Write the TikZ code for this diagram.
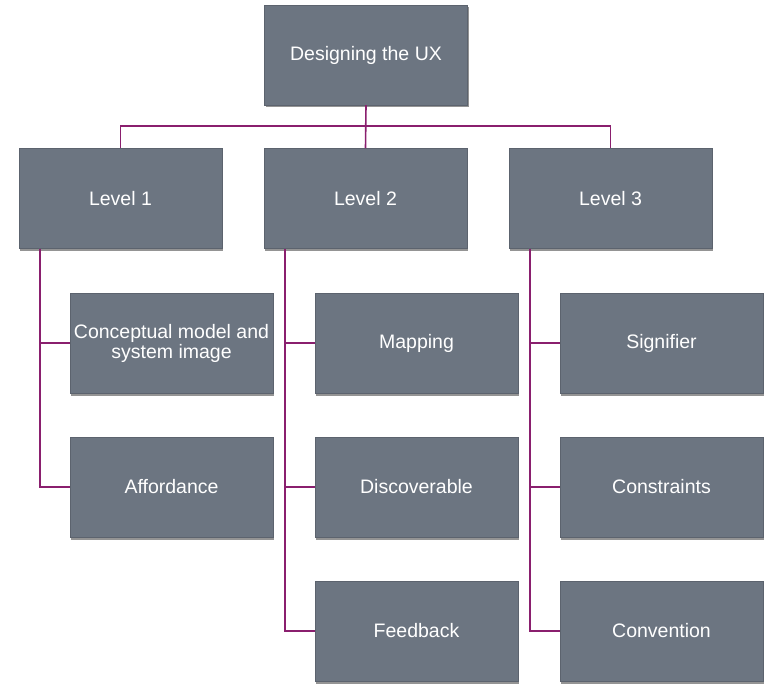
\documentclass[tikz,border=0pt]{standalone}
\usepackage{fontspec}
\setmainfont{Liberation Sans}
\usepackage{xcolor}
\usetikzlibrary{shadows}
\definecolor{boxgray}{HTML}{6C7581}
\definecolor{linkpurple}{HTML}{8A1F6E}

\begin{document}
\begin{tikzpicture}[x=1pt,y=-1pt,
        box/.style={draw=boxgray!85!black, line width=0.5pt, fill=boxgray, text=white,
            minimum width=203pt, minimum height=100pt, inner sep=0pt, align=center,
            font=\fontsize{19.5}{20}\selectfont,
            drop shadow={shadow xshift=1pt, shadow yshift=-2.5pt, opacity=0.6, fill=black!70}},
        link/.style={draw=linkpurple, line width=1.6pt}]
            \useasboundingbox (0,0) rectangle (765,684);
            % root and levels
            \node[box] (ux) at (366,55) {Designing the UX};
            \node[box] (lv1) at (120.5,198.5) {Level 1};
            \node[box] (lv2) at (365.5,198.5) {Level 2};
            \node[box] (lv3) at (610.5,198.5) {Level 3};
            % level 1
            \node[box] (concept) at (171.5,343) {Conceptual model and\\system image};
            \node[box] (afford) at (171.5,487) {Affordance};
            % level 2
            \node[box] (mapping) at (416.5,343) {Mapping};
            \node[box] (discover) at (416.5,487) {Discoverable};
            \node[box] (feedback) at (416.5,631) {Feedback};
            % level 3
            \node[box] (signifier) at (661.5,343) {Signifier};
            \node[box] (constraints) at (661.5,487) {Constraints};
            \node[box] (convention) at (661.5,631) {Convention};
            \draw[link] (ux.south) -- (lv2.north);
            \draw[link] (lv1.north) -- ++(0,-22) -| (lv3.north);
            \coordinate (t1) at ([xshift=21pt]lv1.south west);
            \coordinate (t2) at ([xshift=21pt]lv2.south west);
            \coordinate (t3) at ([xshift=21pt]lv3.south west);
            \draw[link] (t1) |- (afford.west);
            \draw[link] (concept.west) -- (concept.west -| t1);
            \draw[link] (t2) |- (feedback.west);
            \draw[link] (mapping.west) -- (mapping.west -| t2);
            \draw[link] (discover.west) -- (discover.west -| t2);
            \draw[link] (t3) |- (convention.west);
            \draw[link] (signifier.west) -- (signifier.west -| t3);
            \draw[link] (constraints.west) -- (constraints.west -| t3);
        \end{tikzpicture}
\end{document}
